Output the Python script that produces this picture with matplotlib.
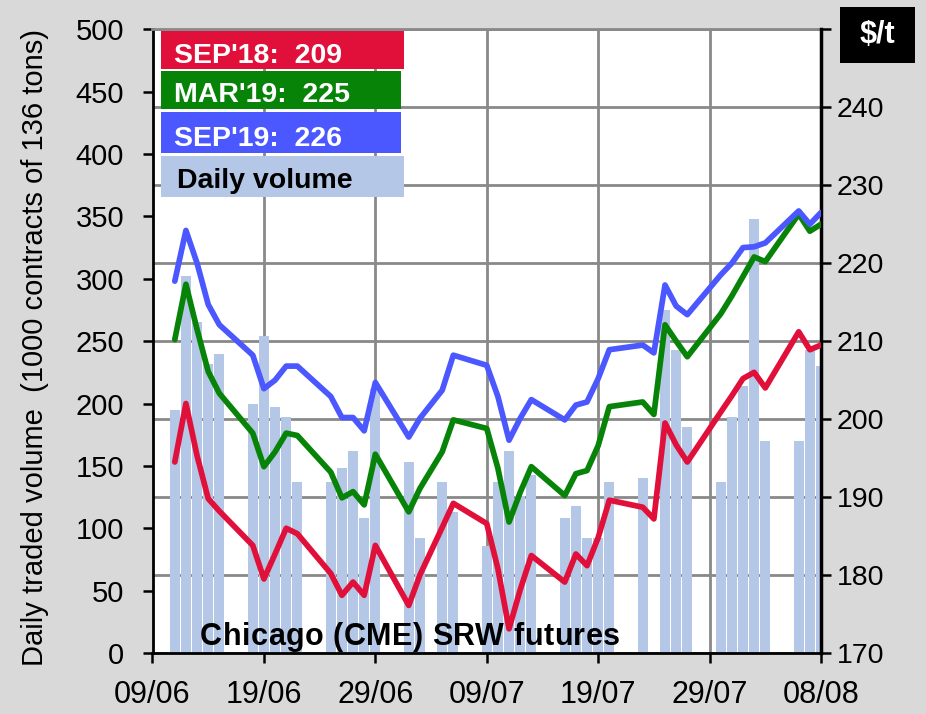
import matplotlib
matplotlib.use('Agg')
import matplotlib.pyplot as plt
import matplotlib.dates as mdates
from matplotlib.patches import Rectangle
import pandas as pd
import numpy as np

plt.rcParams['font.family'] = ['Liberation Sans', 'DejaVu Sans']

# ---------------- data ----------------
trade_dates = [
    "2018-06-11", "2018-06-12", "2018-06-13", "2018-06-14", "2018-06-15",
    "2018-06-18", "2018-06-19", "2018-06-20", "2018-06-21", "2018-06-22",
    "2018-06-25", "2018-06-26", "2018-06-27", "2018-06-28", "2018-06-29",
    "2018-07-02", "2018-07-03", "2018-07-05", "2018-07-06",
    "2018-07-09", "2018-07-10", "2018-07-11", "2018-07-12", "2018-07-13",
    "2018-07-16", "2018-07-17", "2018-07-18", "2018-07-19", "2018-07-20",
    "2018-07-23", "2018-07-24", "2018-07-25", "2018-07-26", "2018-07-27",
    "2018-07-30", "2018-07-31", "2018-08-01", "2018-08-02", "2018-08-03",
    "2018-08-06", "2018-08-07", "2018-08-08",
]

daily_volume = [
    195, 302, 265, 232, 240,
    200, 254, 197, 189, 137,
    137, 148, 162, 108, 212,
    153, 92, 137, 113,
    86, 137, 162, 126, 143,
    108, 118, 92, 92, 137,
    140, 0, 275, 243, 181,
    137, 189, 214, 348, 170,
    170, 243, 230,
]

sep18 = [
    194.5, 202.0, 195.3, 189.8, 188.2,
    183.8, 179.5, 182.7, 186.0, 185.3,
    180.2, 177.4, 179.1, 177.4, 183.8,
    176.1, 180.0, 186.1, 189.2,
    186.6, 180.8, 173.1, 178.1, 182.5,
    179.1, 182.7, 181.2, 184.8, 189.6,
    188.7, 187.2, 199.5, 196.7, 194.5,
    200.9, 203.0, 205.2, 206.0, 204.0,
    211.2, 208.9, 209.5,
]

mar19 = [
    210.2, 217.3, 211.5, 206.1, 203.3,
    198.2, 193.9, 195.8, 198.2, 197.9,
    193.2, 189.9, 190.7, 189.0, 195.5,
    188.1, 191.1, 195.8, 199.9,
    198.8, 193.7, 186.8, 190.6, 193.9,
    190.2, 193.0, 193.4, 196.6, 201.6,
    202.2, 200.6, 212.1, 210.0, 208.0,
    213.5, 215.8, 218.3, 220.8, 220.2,
    226.3, 224.1, 225.0,
]

sep19 = [
    217.7, 224.2, 220.0, 214.7, 212.1,
    208.2, 203.9, 205.0, 206.8, 206.8,
    202.9, 200.2, 200.2, 198.5, 204.7,
    197.7, 200.1, 203.7, 208.2,
    206.9, 202.9, 197.3, 200.1, 202.5,
    199.9, 201.8, 202.2, 205.2, 208.9,
    209.5, 208.5, 217.2, 214.5, 213.4,
    218.5, 220.0, 222.0, 222.1, 222.6,
    226.7, 225.0, 226.5,
]

legend_labels = ["SEP'18:  209", "MAR'19:  225", "SEP'19:  226", "Daily volume"]
x_tick_dates = ["2018-06-09", "2018-06-19", "2018-06-29", "2018-07-09",
                "2018-07-19", "2018-07-29", "2018-08-08"]
vol_ticks = list(range(0, 501, 50))
price_ticks = list(range(170, 251, 10))
y_label = 'Daily traded volume  (1000 contracts of 136 tons)'
unit_label = '$/t'
note_text = 'Chicago (CME) SRW futures'

# ---------------- styling ----------------
C_RED = '#e0103a'
C_GREEN = '#078407'
C_BLUE = '#4b57ff'
C_BAR = '#b4c7e7'
C_GRID = '#898989'
BG = '#d9d9d9'
LW = 4.1

W, H = 926, 714
fig = plt.figure(figsize=(W / 100, H / 100), dpi=100, facecolor=BG)

L, R, T, B = 152.5, 821, 29.3, 653
pos = [L / W, 1 - B / H, (R - L) / W, (B - T) / H]

dts = pd.to_datetime(trade_dates)
xt = pd.to_datetime(x_tick_dates)
xlim = (mdates.date2num(xt[0]), mdates.date2num(xt[-1]))

# grid axes (behind everything)
gax = fig.add_axes(pos, zorder=0)
gax.set_facecolor('white')
gax.set_xlim(xlim)
gax.set_ylim(170, 250)
gax.set_xticks(mdates.date2num(xt))
gax.set_yticks(price_ticks)
gax.grid(True, color=C_GRID, lw=2)
gax.tick_params(which='both', length=0, labelbottom=False, labelleft=False)
for s in gax.spines.values():
    s.set_visible(False)

# volume axes
ax = fig.add_axes(pos, zorder=1)
ax.patch.set_visible(False)
ax.bar(mdates.date2num(dts), daily_volume, width=0.92, color=C_BAR,
       edgecolor='none', zorder=2)
ax.set_xlim(xlim)
ax.set_ylim(0, 500)
ax.set_yticks(vol_ticks)
ax.set_xticks(mdates.date2num(xt))
ax.set_xticklabels([d.strftime('%d/%m') for d in xt])
for side in ['left', 'bottom']:
    ax.spines[side].set_color('black')
    ax.spines[side].set_linewidth(2)
ax.spines['top'].set_color(C_GRID)
ax.spines['top'].set_linewidth(2)
ax.spines['right'].set_visible(False)
ax.tick_params(axis='y', direction='out', length=7.5, width=1.8,
               labelsize=21, pad=13, colors='black')
ax.tick_params(axis='x', direction='out', length=7.5, width=1.8,
               labelsize=22, pad=12, colors='black')

# price axes
ax2 = ax.twinx()
ax2.set_zorder(2)
ax2.set_ylim(170, 250)
ax2.set_yticks(price_ticks)
ax2.set_yticklabels([str(v) if v < 250 else '' for v in price_ticks])
for side in ['left', 'top', 'bottom']:
    ax2.spines[side].set_visible(False)
ax2.spines['right'].set_color('black')
ax2.spines['right'].set_linewidth(2.5)
ax2.tick_params(axis='y', direction='out', length=7.5, width=1.8,
                labelsize=20.5, pad=4, colors='black')

xd = mdates.date2num(dts)
for series, col, z in [(sep18, C_RED, 3), (mar19, C_GREEN, 4), (sep19, C_BLUE, 5)]:
    ax2.plot(xd, series, color=col, lw=LW, solid_joinstyle='round',
             solid_capstyle='round', zorder=z)


def fx(x):
    return x / W


def fy(y):
    return 1 - y / H


def box(x0, y0, x1, y1, color):
    fig.add_artist(Rectangle((fx(x0), fy(y1)), fx(x1) - fx(x0), fy(y0) - fy(y1),
                             transform=fig.transFigure, facecolor=color,
                             edgecolor='none', zorder=10))


# y label
fig.text(fx(35), fy(347), y_label, rotation=90, ha='center', va='center',
         fontsize=21, color='black')

# legend boxes
box(161, 31, 404, 69, C_RED)
box(161, 71, 401, 109, C_GREEN)
box(161, 112, 401, 153, C_BLUE)
box(161, 156, 404, 197, C_BAR)
fig.text(fx(174), fy(63.3), legend_labels[0], color='white', fontsize=20.5,
         fontweight='bold', va='baseline', ha='left', zorder=11)
fig.text(fx(174), fy(101.7), legend_labels[1], color='white', fontsize=20.5,
         fontweight='bold', va='baseline', ha='left', zorder=11)
fig.text(fx(174), fy(145.7), legend_labels[2], color='white', fontsize=20.5,
         fontweight='bold', va='baseline', ha='left', zorder=11)
fig.text(fx(177), fy(188), legend_labels[3], color='black', fontsize=20.5,
         fontweight='bold', va='baseline', ha='left', zorder=11)

# unit box
box(840, 7, 915, 63, 'black')
fig.text(fx(877.5), fy(35), unit_label, color='white', fontsize=22,
         fontweight='bold', va='center', ha='center', zorder=11)

# annotation with slight letter spacing (tracking)
renderer = fig.canvas.get_renderer()


def text_width(s, **kw):
    t = fig.text(0, 0, s, **kw)
    w = t.get_window_extent(renderer).width
    t.remove()
    return w


kw = dict(fontsize=22, fontweight='bold')
space_w = text_width('x x', **kw) - text_width('xx', **kw)
target_w = 420.0
char_ws = [space_w if c == ' ' else text_width(c, **kw) for c in note_text]
track = max(0.0, (target_w - sum(char_ws)) / (len(note_text) - 1))
cx = 200.0
for c, w in zip(note_text, char_ws):
    if c != ' ':
        fig.text(fx(cx), fy(645), c, color='black', va='baseline', ha='left',
                 zorder=11, **kw)
    cx += w + track

fig.savefig('out.png', dpi=100, facecolor=BG)
